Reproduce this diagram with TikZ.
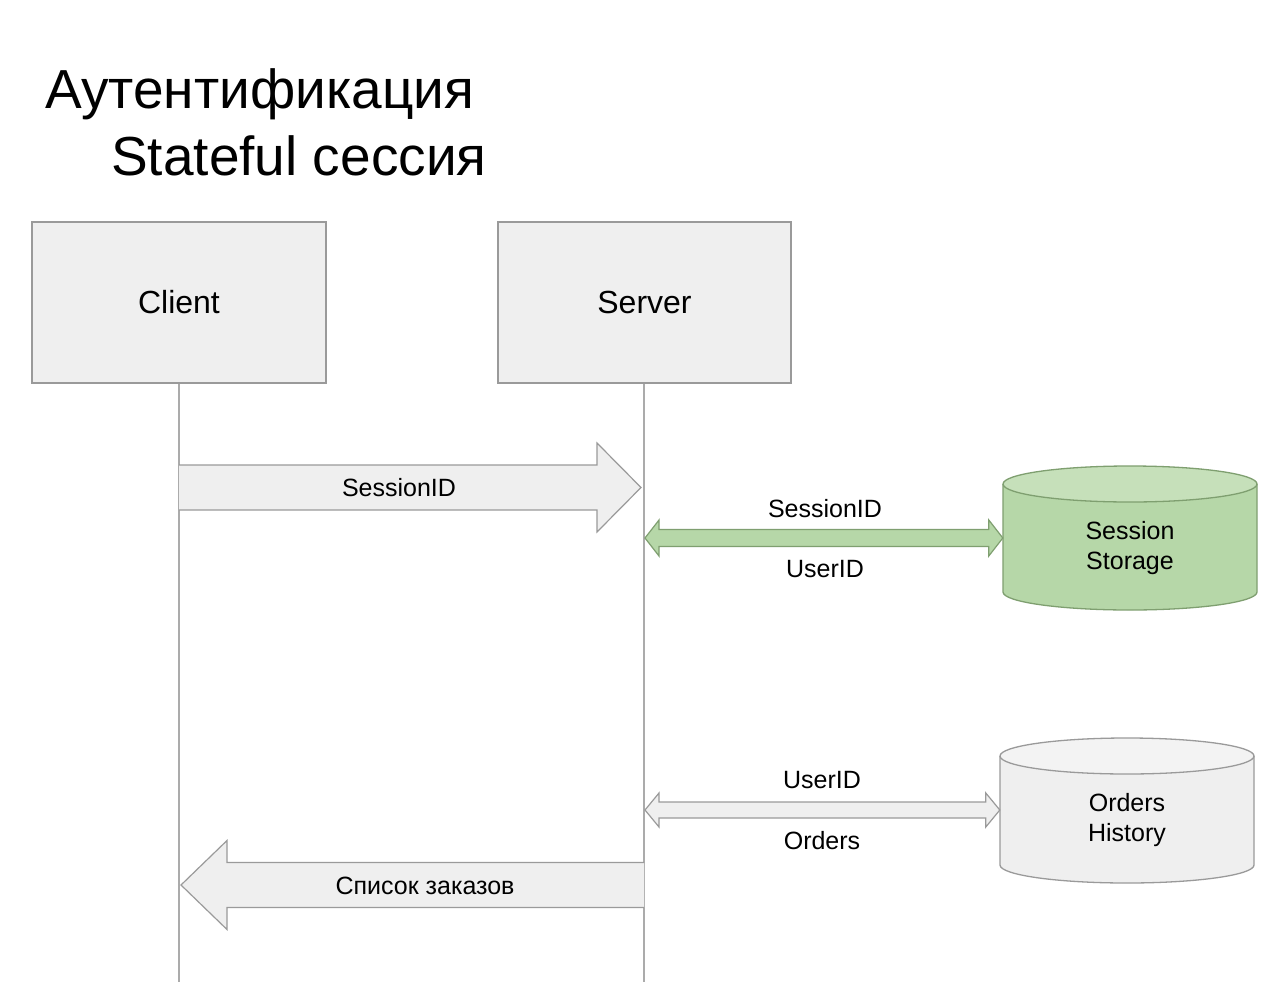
\documentclass[tikz,border=0pt]{standalone}
\usepackage{fontspec}
\setmainfont{Liberation Sans}
\usetikzlibrary{calc}
\definecolor{boxfill}{HTML}{EFEFEF}
\definecolor{boxdraw}{HTML}{9A9A9A}
\definecolor{lifecol}{HTML}{ABABAB}
\definecolor{greenfill}{HTML}{B6D7A8}
\definecolor{greentop}{HTML}{C6E0BA}
\definecolor{greendraw}{HTML}{7F9F70}
\definecolor{graytop}{HTML}{F3F3F3}
\newcommand\dblfat[6]{%
  \draw[#6] (#1) -- ($(#1)+(#3,-#4)$) -- ($(#1)+(#3,-#5)$) -- ($(#2)+(-#3,-#5)$)
    -- ($(#2)+(-#3,-#4)$) -- (#2) -- ($(#2)+(-#3,#4)$) -- ($(#2)+(-#3,#5)$)
    -- ($(#1)+(#3,#5)$) -- ($(#1)+(#3,#4)$) -- cycle;}
\begin{document}
\begin{tikzpicture}[x=1pt,y=-1pt,
  actor/.style={draw=boxdraw,fill=boxfill,line width=1.4pt,minimum width=294pt,minimum height=161pt,inner sep=0pt,font=\fontsize{32}{38}\selectfont},
  life/.style={draw=lifecol,line width=1.2pt},
  fat/.style={draw=boxdraw,fill=boxfill,line width=1.2pt},
  greenfat/.style={draw=greendraw,fill=greenfill,line width=1.2pt},
  lbl/.style={inner sep=0pt,font=\fontsize{25}{30}\selectfont},
  storetxt/.style={inner sep=0pt,align=center,font=\fontsize{25}{30}\selectfont},
  area/.style={inner sep=0pt,minimum width=254pt,minimum height=108pt},
  titletxt/.style={inner sep=0pt,anchor=base west,font=\fontsize{55}{66}\selectfont}]
\useasboundingbox (0,0) rectangle (1274,982);
\fill[white] (0,0) rectangle (1274,982);

% title
\node[titletxt] (t1) at (45,108) {Аутентификация};
\node[titletxt] (t2) at (111,175) {Stateful сессия};

% actors
\node[actor] (client) at (179,302.5) {Client};
\node[actor,minimum width=293pt] (server) at (644.5,302.5) {Server};
\coordinate (cend) at (179,982);
\coordinate (send) at (644,982);
\draw[life] (client.south) -- (cend);
\draw[life] (server.south -| send) -- (send);

% arrow 1: client -> server
\coordinate (a1s) at (179,487.5);
\coordinate (a1e) at (641,487.5);
\draw[fat] (a1s) ++(0,-22.5) -- ($(a1e)+(-44,-22.5)$) -- ($(a1e)+(-44,-44.5)$) -- (a1e)
  -- ($(a1e)+(-44,44.5)$) -- ($(a1e)+(-44,22.5)$) -- ($(a1s)+(0,22.5)$);
\node[lbl] (l1) at (399,488) {SessionID};

% session storage cylinder
\node[area] (ss) at (1130,538) {};
\fill[greenfill] (1003,484) -- (1003,592) arc[start angle=180,end angle=360,x radius=127pt,y radius=18pt] -- (1257,484) -- cycle;
\draw[greendraw,line width=1.3pt] (1003,484) -- (1003,592) arc[start angle=180,end angle=360,x radius=127pt,y radius=18pt] -- (1257,484);
\draw[greendraw,fill=greentop,line width=1.3pt] (1130,484) ellipse[x radius=127pt,y radius=18pt];
\node[storetxt] (sst) at (1130,548) {Session\\Storage};

% green double arrow
\coordinate (g1) at (645,538);
\dblfat{g1}{ss.west}{14}{18}{8.5}{greenfat}
\node[lbl] (l2) at (825,509) {SessionID};
\node[lbl] (l3) at (825,569) {UserID};

% orders history cylinder
\node[area] (oh) at (1127,810) {};
\fill[boxfill] (1000,756) -- (1000,865) arc[start angle=180,end angle=360,x radius=127pt,y radius=18pt] -- (1254,756) -- cycle;
\draw[boxdraw,line width=1.3pt] (1000,756) -- (1000,865) arc[start angle=180,end angle=360,x radius=127pt,y radius=18pt] -- (1254,756);
\draw[boxdraw,fill=graytop,line width=1.3pt] (1127,756) ellipse[x radius=127pt,y radius=18pt];
\node[storetxt] (oht) at (1127,820) {Orders\\History};

% gray double arrow
\coordinate (g2) at (645,810);
\dblfat{g2}{oh.west}{14}{17}{8}{fat}
\node[lbl] (l4) at (822,780) {UserID};
\node[lbl] (l5) at (822,841) {Orders};

% arrow back: server -> client
\coordinate (b1s) at (644,885);
\coordinate (b1e) at (181,885);
\draw[fat] (b1s) ++(0,-22.5) -- ($(b1e)+(46,-22.5)$) -- ($(b1e)+(46,-44.5)$) -- (b1e)
  -- ($(b1e)+(46,44.5)$) -- ($(b1e)+(46,22.5)$) -- ($(b1s)+(0,22.5)$);
\node[lbl] (l6) at (425,886) {Список заказов};
\end{tikzpicture}
\end{document}
